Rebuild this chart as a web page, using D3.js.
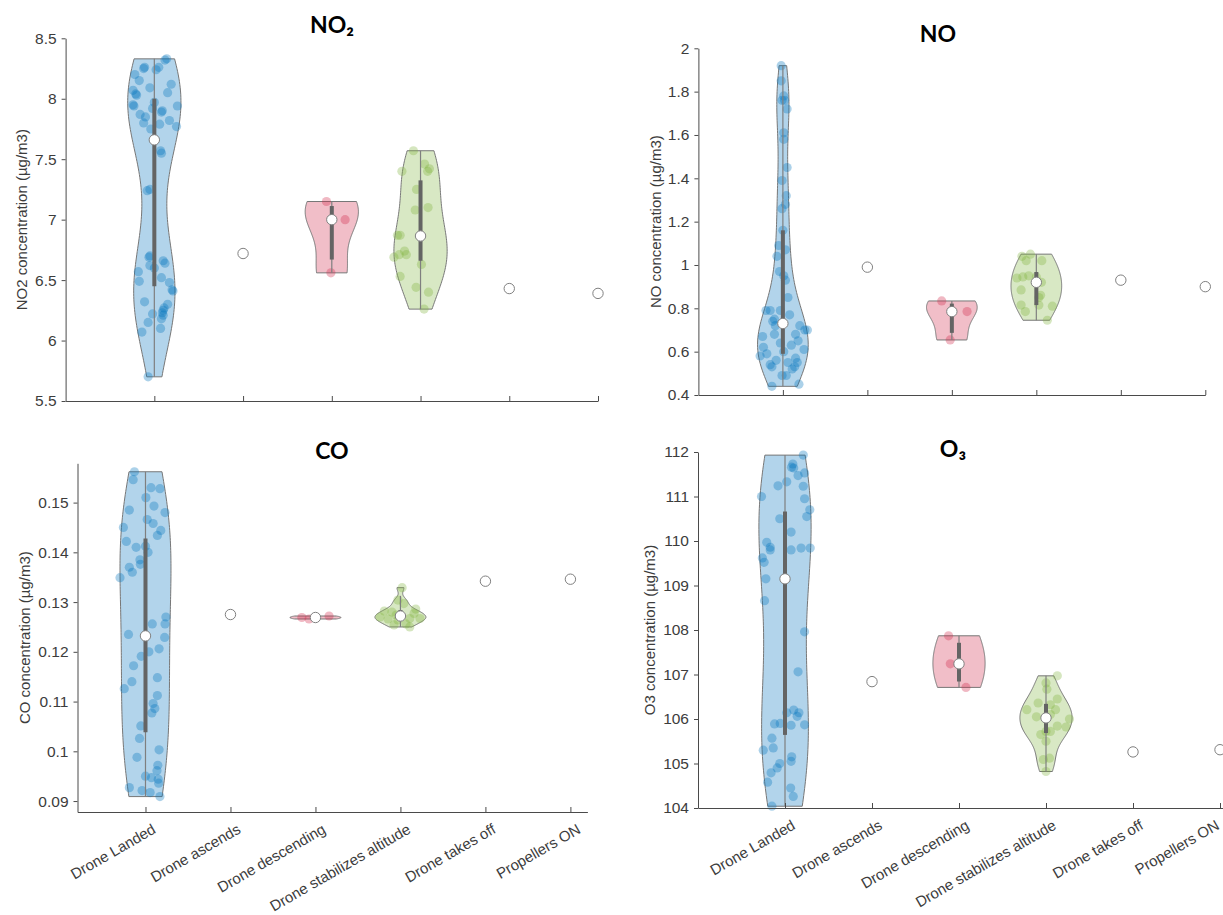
<!DOCTYPE html>
<html>
<head>
<meta charset="utf-8">
<script src="https://cdn.jsdelivr.net/npm/d3@7"></script>
<style>
  html, body { margin: 0; padding: 0; background: #fff; }
  svg { display: block; }
</style>
</head>
<body>
<svg id="fig" width="1223" height="915"></svg>
<script>
// ---------------------------------------------------------------------------
// Flight phases (x categories)
const categories = ["Drone Landed", "Drone ascends", "Drone descending",
                    "Drone stabilizes altitude", "Drone takes off", "Propellers ON"];

// Measurements per phase: [concentration, horizontal jitter in category units]
// ---- NO2 ----
const no2Landed = [
  [8.33,0.14],[8.32,0.12],[8.26,-0.11],[8.25,-0.12],[8.24,0.02],[8.26,0.05],[8.20,-0.22],
  [8.15,-0.17],[8.12,0.19],[8.09,-0.05],[8.07,-0.24],[8.05,0.15],[8.04,-0.21],[8.03,-0.20],
  [7.97,0.00],[7.95,-0.24],[7.94,0.26],[7.94,-0.23],[7.92,-0.02],[7.90,0.09],[7.89,0.08],
  [7.87,-0.16],[7.85,-0.10],[7.82,0.17],[7.80,-0.12],[7.79,0.06],[7.77,0.25],[7.75,-0.04],
  [7.57,0.07],[7.55,0.08],[7.25,-0.05],[7.24,-0.08],
  [6.70,-0.05],[6.69,-0.06],[6.66,0.10],[6.64,0.12],[6.62,-0.05],[6.60,0.00],[6.57,-0.18],
  [6.52,0.08],[6.49,-0.17],[6.48,0.17],[6.42,0.20],[6.41,0.21],[6.32,-0.11],[6.30,0.15],
  [6.27,0.11],[6.25,0.10],[6.23,0.09],[6.22,-0.02],[6.21,0.10],[6.18,0.08],[6.15,-0.07],
  [6.10,0.07],[6.07,-0.14],[5.70,-0.07]
];
const no2Descending = [[7.15,-0.06],[7.00,0.15],[6.56,-0.01]];
const no2Stabilizes = [
  [7.57,-0.08],[7.46,0.045],[7.42,0.10],[7.40,-0.21],[7.40,0.08],[7.25,-0.045],[7.10,0.085],
  [7.08,-0.06],[6.87,-0.26],[6.87,-0.23],[6.86,0.00],[6.74,-0.18],[6.71,-0.24],[6.71,-0.16],
  [6.69,-0.30],[6.63,0.01],[6.53,-0.23],[6.44,-0.05],[6.40,0.09],[6.26,0.04]
];
const no2Single = { ascends: 6.72, takesOff: 6.43, propellers: 6.39 };
const no2Ticks = [5.5, 6, 6.5, 7, 7.5, 8, 8.5];

// ---- NO ----
const noLanded = [
  [1.92,-0.02],[1.85,-0.02],[1.78,0.01],[1.76,-0.01],[1.76,0.02],[1.72,0.05],[1.61,0.01],
  [1.58,0.01],[1.45,0.05],[1.39,-0.01],[1.32,0.04],[1.28,0.03],[1.26,-0.01],[1.16,0.00],
  [1.09,-0.05],[1.07,0.03],[1.04,-0.07],[0.97,-0.04],[0.95,0.01],[0.93,0.03],[0.85,0.06],
  [0.79,-0.03],[0.79,-0.15],[0.79,-0.20],[0.77,0.08],[0.75,-0.10],[0.74,-0.12],[0.72,-0.09],
  [0.72,0.20],[0.70,0.26],[0.70,0.29],[0.68,0.15],[0.68,-0.10],[0.67,-0.24],[0.65,0.18],
  [0.64,-0.03],[0.63,0.10],[0.62,-0.23],[0.61,0.25],[0.60,0.01],[0.59,-0.19],[0.58,-0.27],
  [0.57,0.15],[0.56,-0.08],[0.55,0.17],[0.55,0.06],[0.54,-0.15],[0.53,-0.13],[0.53,0.14],
  [0.52,0.11],[0.49,0.04],[0.49,-0.01],[0.45,0.19],[0.44,-0.13]
];
const noDescending = [[0.834,-0.12],[0.785,0.18],[0.654,-0.02]];
const noStabilizes = [
  [1.05,-0.07],[1.04,-0.17],[1.02,-0.12],[1.02,0.065],[0.95,-0.09],[0.945,-0.16],[0.945,0.00],
  [0.94,-0.23],[0.92,0.06],[0.885,-0.18],[0.86,0.05],[0.85,0.03],[0.815,-0.18],[0.815,0.03],
  [0.81,0.19],[0.785,-0.13],[0.745,0.13]
];
const noSingle = { ascends: 0.99, takesOff: 0.93, propellers: 0.90 };
const noTicks = [0.4, 0.6, 0.8, 1, 1.2, 1.4, 1.6, 1.8, 2];

// ---- CO ----
const coLanded = [
  [0.1562,-0.13],[0.1546,-0.145],[0.1530,0.065],[0.1528,0.17],[0.1510,0.005],[0.1493,0.10],
  [0.1485,-0.19],[0.1480,0.23],[0.1466,0.02],[0.1458,0.09],[0.1450,-0.26],[0.1444,0.18],
  [0.1434,0.14],[0.1422,-0.225],[0.1412,0.00],[0.1410,-0.11],[0.1400,0.03],[0.1385,-0.065],
  [0.1376,-0.06],[0.1370,-0.19],[0.1360,-0.155],[0.1349,-0.30],[0.1270,0.24],[0.1256,0.23],
  [0.1256,0.08],[0.1235,-0.20],[0.1229,0.225],[0.1206,0.16],[0.1200,0.04],[0.1191,-0.05],
  [0.1172,-0.14],[0.1148,0.14],[0.1140,-0.16],[0.1126,-0.25],[0.1112,0.14],[0.1096,0.09],
  [0.1086,0.11],[0.1077,0.075],[0.1051,-0.055],[0.1026,-0.07],[0.1003,0.16],[0.0988,-0.10],
  [0.0972,0.145],[0.0961,0.135],[0.0950,0.00],[0.0947,0.07],[0.0944,0.15],[0.0936,0.155],
  [0.0927,-0.19],[0.0921,-0.04],[0.0917,0.055],[0.0909,0.17]
];
const coDescending = [[0.1269,-0.16],[0.1266,-0.075],[0.1272,0.16]];
const coStabilizes = [
  [0.1329,0.02],[0.1304,-0.03],[0.1297,0.04],[0.1286,0.18],[0.1282,-0.19],[0.1280,-0.10],
  [0.1277,0.16],[0.1274,-0.05],[0.1270,-0.24],[0.1267,0.11],[0.1267,0.23],[0.1266,-0.145],
  [0.1264,-0.03],[0.1256,0.065],[0.1254,-0.075],[0.1250,0.11]
];
const coSingle = { ascends: 0.1275, takesOff: 0.1342, propellers: 0.1346 };
const coTicks = [0.09, 0.10, 0.11, 0.12, 0.13, 0.14, 0.15];

// ---- O3 ----
const o3Landed = [
  [111.93,0.21],[111.73,0.09],[111.66,0.075],[111.64,0.10],[111.53,0.225],[111.47,0.15],
  [111.33,0.02],[111.24,-0.08],[111.23,0.21],[111.00,-0.27],[110.95,0.225],[110.70,0.285],
  [110.55,0.25],[110.50,-0.06],[110.20,0.07],[109.97,-0.21],[109.86,-0.17],[109.84,0.185],
  [109.84,0.29],[109.80,-0.17],[109.80,0.07],[109.62,-0.26],[109.52,-0.24],[109.15,-0.22],
  [108.66,-0.235],[107.96,0.225],[107.06,0.15],[106.20,0.10],[106.14,0.02],[106.14,0.16],
  [106.06,0.14],[105.90,-0.055],[105.89,-0.12],[105.87,0.225],[105.86,0.07],[105.57,-0.15],
  [105.35,-0.135],[105.30,-0.25],[105.15,0.077],[105.05,0.07],[105.00,-0.06],[104.90,-0.09],
  [104.79,-0.16],[104.58,-0.20],[104.45,0.065],[104.26,0.095],[104.04,-0.15]
];
const o3Descending = [[107.87,-0.12],[107.24,-0.10],[106.71,0.08]];
const o3Stabilizes = [
  [106.97,0.13],[106.81,0.00],[106.67,0.01],[106.45,0.13],[106.36,-0.09],[106.32,0.05],
  [106.21,0.11],[106.21,-0.22],[106.10,0.05],[106.05,-0.11],[106.00,0.27],[105.84,0.13],
  [105.82,0.23],[105.72,0.00],[105.72,0.05],[105.65,-0.06],[105.50,0.00],[105.12,0.04],
  [105.09,-0.03],[104.82,0.00]
];
const o3Single = { ascends: 106.84, takesOff: 105.26, propellers: 105.31 };
const o3Ticks = [104, 105, 106, 107, 108, 109, 110, 111, 112];

// ---------------------------------------------------------------------------
// Colours of the three multi-sample phases
const phaseColor = {
  "Drone Landed": "#0072BD",
  "Drone descending": "#d2284a",
  "Drone stabilizes altitude": "#7fb33c"
};

function groupsFor(landed, descending, stabilizes, single) {
  return [
    { cat: "Drone Landed", pts: landed },
    { cat: "Drone ascends", pts: [[single.ascends, 0]] },
    { cat: "Drone descending", pts: descending },
    { cat: "Drone stabilizes altitude", pts: stabilizes },
    { cat: "Drone takes off", pts: [[single.takesOff, 0]] },
    { cat: "Propellers ON", pts: [[single.propellers, 0]] }
  ];
}

// Panel layout (pixel frame of each axes)
const panels = [
  { title: "NO\u2082", ylabel: "NO2 concentration (\u00b5g/m3)",
    groups: groupsFor(no2Landed, no2Descending, no2Stabilizes, no2Single), ticks: no2Ticks,
    xDomain: [0, 6.0], xRange: [65.6, 598], yDomain: [5.5, 8.5], yRange: [401, 38.3],
    titleX: 332, titleY: 33, ylabelX: 27, xLabels: false },
  { title: "NO", ylabel: "NO concentration (\u00b5g/m3)",
    groups: groupsFor(noLanded, noDescending, noStabilizes, noSingle), ticks: noTicks,
    xDomain: [0, 6.0], xRange: [698.4, 1205.3], yDomain: [0.4, 2], yRange: [395, 48.3],
    titleX: 938, titleY: 42, ylabelX: 661, xLabels: false },
  { title: "CO", ylabel: "CO concentration (\u00b5g/m3)",
    groups: groupsFor(coLanded, coDescending, coStabilizes, coSingle), ticks: coTicks,
    xDomain: [0.2, 6.2], xRange: [77.5, 587.4], yDomain: [0.0878, 0.1579], yRange: [812, 463.3],
    titleX: 332, titleY: 459, ylabelX: 30, xLabels: true },
  { title: "O\u2083", ylabel: "O3 concentration (\u00b5g/m3)",
    groups: groupsFor(o3Landed, o3Descending, o3Stabilizes, o3Single), ticks: o3Ticks,
    xDomain: [0, 6.1], xRange: [698, 1228.7], yDomain: [104, 112], yRange: [808, 452],
    titleX: 953, titleY: 457, ylabelX: 655, xLabels: true }
];

const PAGE_W = 1223;

// ---------------------------------------------------------------------------
// Statistics helpers (quantiles and kernel density as in MATLAB)
function quantileM(sorted, p) {
  const n = sorted.length;
  if (n === 1) return sorted[0];
  const h = n * p + 0.5;
  if (h <= 1) return sorted[0];
  if (h >= n) return sorted[n - 1];
  const lo = Math.floor(h);
  return sorted[lo - 1] + (h - lo) * (sorted[lo] - sorted[lo - 1]);
}
function bandwidth(vals) {
  const n = vals.length;
  const med = d3.median(vals);
  let sig = d3.median(vals.map(v => Math.abs(v - med))) / 0.6745;
  if (!(sig > 0)) sig = d3.max(vals) - d3.min(vals);
  if (!(sig > 0)) sig = 1;
  return sig * Math.pow(4 / (3 * n), 0.2);
}
function kde(vals) {
  const bw = bandwidth(vals);
  const lo = d3.min(vals), hi = d3.max(vals);
  const m = 100;
  const out = [];
  for (let i = 0; i < m; i++) {
    const v = lo + (hi - lo) * i / (m - 1);
    let s = 0;
    for (const x of vals) { const z = (v - x) / bw; s += Math.exp(-0.5 * z * z); }
    out.push([v, s / (vals.length * bw * Math.sqrt(2 * Math.PI))]);
  }
  return out;
}

// ---------------------------------------------------------------------------
const svg = d3.select("#fig");
svg.append("rect").attr("width", PAGE_W).attr("height", 915).attr("fill", "#fff");

const FONT = "'Liberation Sans', Arial, Helvetica, sans-serif";
const AXIS = "#4a4a4a";
const TEXT = "#3c3c3c";
const fmt = v => String(+v.toFixed(4));

panels.forEach(p => {
  const x = d3.scaleLinear().domain(p.xDomain).range(p.xRange);
  const y = d3.scaleLinear().domain(p.yDomain).range(p.yRange);
  const g = svg.append("g");
  const unit = x(1) - x(0);

  // violins, data points, box and median
  p.groups.forEach((grp, i) => {
    const cx = x(i + 1);
    const vals = grp.pts.map(d => d[0]).sort(d3.ascending);
    const color = phaseColor[grp.cat];
    if (vals.length > 1) {
      const dens = kde(vals);
      const k = 0.3 / d3.max(dens, d => d[1]);
      const outline = dens.map(d => [cx + d[1] * k * unit, y(d[0])])
        .concat(dens.slice().reverse().map(d => [cx - d[1] * k * unit, y(d[0])]));
      g.append("path")
        .attr("d", d3.line()(outline) + "Z")
        .attr("fill", color).attr("fill-opacity", 0.3)
        .attr("stroke", "#777").attr("stroke-width", 1);

      g.append("g").selectAll("circle").data(grp.pts).join("circle")
        .attr("cx", d => cx + d[1] * unit)
        .attr("cy", d => y(d[0]))
        .attr("r", 4.6)
        .attr("fill", color).attr("fill-opacity", 0.33);

      const q1 = quantileM(vals, 0.25), q3 = quantileM(vals, 0.75);
      const iqr = q3 - q1;
      const loW = Math.max(q1 - 1.5 * iqr, d3.min(vals));
      const hiW = Math.min(q3 + 1.5 * iqr, d3.max(vals));
      g.append("line")
        .attr("x1", cx).attr("x2", cx).attr("y1", y(loW)).attr("y2", y(hiW))
        .attr("stroke", "#7f7f7f").attr("stroke-width", 1.2);
      g.append("line")
        .attr("x1", cx).attr("x2", cx).attr("y1", y(q1)).attr("y2", y(q3))
        .attr("stroke", "#646464").attr("stroke-width", 4);
    }
    g.append("circle")
      .attr("cx", cx).attr("cy", y(quantileM(vals, 0.5)))
      .attr("r", 5.2)
      .attr("fill", "#fff").attr("stroke", "#808080").attr("stroke-width", 1);
  });

  // y axis
  const ya = g.append("g").attr("transform", `translate(${p.xRange[0]},0)`)
    .call(d3.axisLeft(y).tickValues(p.ticks).tickFormat(fmt).tickSize(4).tickSizeOuter(0).tickPadding(5));
  ya.select(".domain").attr("stroke", AXIS);
  ya.selectAll(".tick line").attr("stroke", AXIS);
  ya.selectAll(".tick text").attr("font-family", FONT).attr("font-size", 15.5).attr("fill", TEXT);

  // x axis
  const xa = g.append("g").attr("transform", `translate(0,${p.yRange[0]})`)
    .call(d3.axisBottom(x).tickValues(d3.range(1, categories.length + 1))
      .tickFormat("").tickSize(-5).tickSizeOuter(0));
  xa.select(".domain").attr("stroke", AXIS);
  xa.selectAll(".tick line").attr("stroke", AXIS);

  if (p.xLabels) {
    // rotated category labels, kept inside the page on the right-hand side
    g.append("g").selectAll("text").data(categories).join("text")
      .attr("transform", (d, i) =>
        `translate(${Math.min(x(i + 1) + 6, PAGE_W - 8)},${p.yRange[0] + 11}) rotate(-30)`)
      .attr("text-anchor", "end")
      .attr("dy", "0.71em")
      .attr("font-family", FONT).attr("font-size", 15).attr("fill", TEXT)
      .text(d => d);
  }

  // y label
  g.append("text")
    .attr("transform", `translate(${p.ylabelX},${(p.yRange[0] + p.yRange[1]) / 2}) rotate(-90)`)
    .attr("text-anchor", "middle")
    .attr("font-family", FONT).attr("font-size", 15).attr("fill", TEXT)
    .text(p.ylabel);

  // title
  g.append("text")
    .attr("x", p.titleX).attr("y", p.titleY)
    .attr("text-anchor", "middle")
    .attr("font-family", "Lato, 'Open Sans', sans-serif").attr("font-weight", "bold")
    .attr("font-size", 23).attr("fill", "#000")
    .text(p.title);
});
</script>
</body>
</html>
